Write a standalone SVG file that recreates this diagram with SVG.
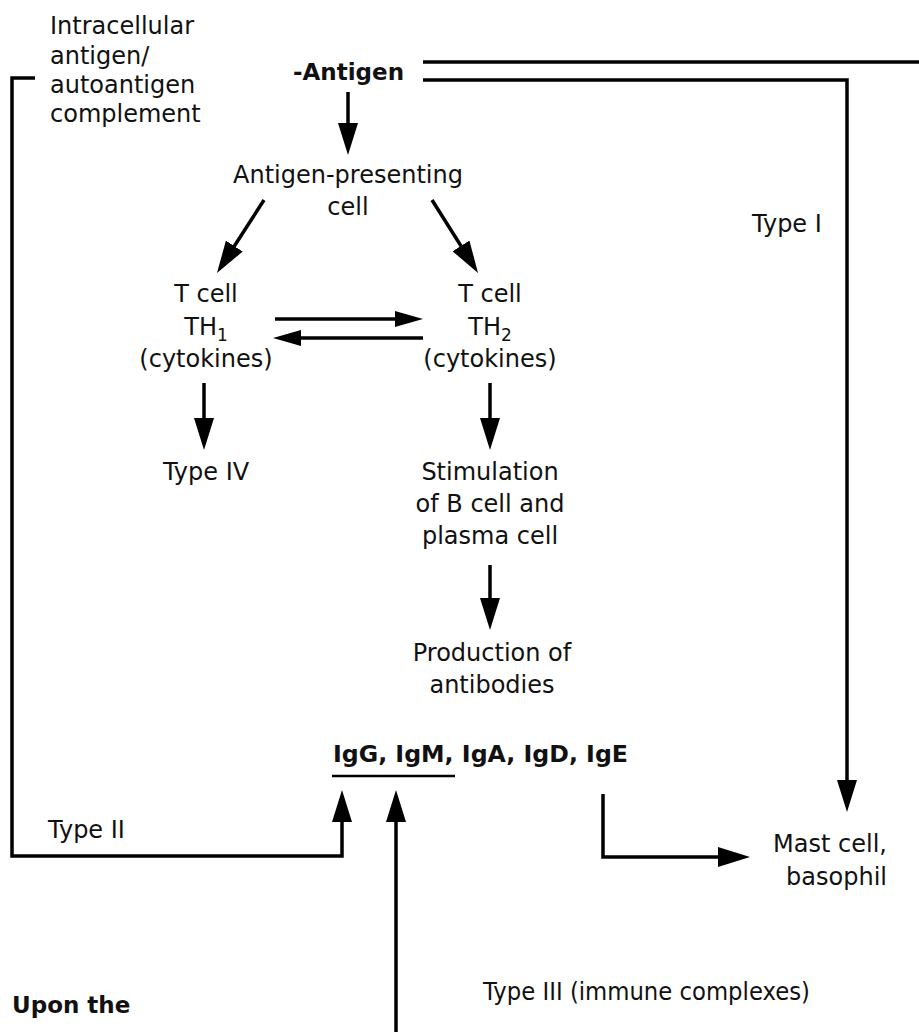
<svg xmlns="http://www.w3.org/2000/svg" width="919" height="1032" viewBox="0 0 919 1032">
<style>
  .t { font-family: "DejaVu Sans", "Liberation Sans", sans-serif; font-size: 24px; fill: #111; }
  .m { text-anchor: middle; }
  .e { text-anchor: end; }
  .b { font-family: "DejaVu Sans", "Liberation Sans", sans-serif; font-weight: bold; font-size: 23px; fill: #111; }
  .c { fill: none; stroke: #000; stroke-width: 3.5; stroke-linejoin: miter; }
</style>
<defs>
  <marker id="ah" markerUnits="userSpaceOnUse" markerWidth="32" markerHeight="20" refX="22" refY="10" orient="auto">
    <path d="M0,0 L32,10 L0,20 Z" fill="#000"/>
  </marker>
  <marker id="ahs" markerUnits="userSpaceOnUse" markerWidth="28" markerHeight="16" refX="18" refY="8" orient="auto">
    <path d="M0,0 L28,8 L0,16 Z" fill="#000"/>
  </marker>
</defs>
<rect width="919" height="1032" fill="#fff"/>

<g id="connectors">
  <!-- bracket / Type II -->
  <path class="c" d="M35,78 H12 V856 H342 V800" marker-end="url(#ah)"/>
  <!-- top double line / Type I -->
  <path class="c" d="M423,62 H919"/>
  <path class="c" d="M423,80 H847 V802" marker-end="url(#ah)"/>
  <!-- Antigen -> APC -->
  <path class="c" d="M348,92 V145" marker-end="url(#ah)"/>
  <!-- APC -> T cells -->
  <path class="c" d="M264,200 L222.4,264.6" marker-end="url(#ah)"/>
  <path class="c" d="M432,200 L472.7,264.5" marker-end="url(#ah)"/>
  <!-- TH1 <-> TH2 -->
  <path class="c" d="M275,319 H413" marker-end="url(#ahs)"/>
  <path class="c" d="M423,338 H283" marker-end="url(#ahs)"/>
  <!-- T cells down -->
  <path class="c" d="M204,383 V440" marker-end="url(#ah)"/>
  <path class="c" d="M490,383 V440" marker-end="url(#ah)"/>
  <path class="c" d="M490,565 V620" marker-end="url(#ah)"/>
  <!-- underline -->
  <path d="M332,776 H455" stroke="#000" stroke-width="2.5" fill="none"/>
  <!-- Type III -->
  <path class="c" d="M396,1032 V800" marker-end="url(#ah)"/>
  <!-- IgE -> Mast cell -->
  <path class="c" d="M603,794 V857 H740" marker-end="url(#ah)"/>
</g>

<g id="intracellular">
  <text class="t" x="50" y="34" font-size="23.5">Intracellular</text>
  <text class="t" x="50" y="64" font-size="23.5">antigen/</text>
  <text class="t" x="50" y="93" font-size="23.5">autoantigen</text>
  <text class="t" x="50" y="122" font-size="23.5">complement</text>
</g>
<g id="antigen">
  <text class="b" x="293" y="80">-Antigen</text>
</g>
<g id="apc">
  <text class="t m" x="348" y="183" font-size="24.5">Antigen-presenting</text>
  <text class="t m" x="348" y="215" font-size="24.5">cell</text>
</g>
<g id="th1">
  <text class="t m" x="206" y="302">T cell</text>
  <text class="t m" x="206" y="335">TH<tspan dy="6" font-size="17">1</tspan></text>
  <text class="t m" x="206" y="367">(cytokines)</text>
</g>
<g id="th2">
  <text class="t m" x="490" y="302">T cell</text>
  <text class="t m" x="490" y="335">TH<tspan dy="6" font-size="17">2</tspan></text>
  <text class="t m" x="490" y="367">(cytokines)</text>
</g>
<g id="type4">
  <text class="t m" x="206" y="480">Type IV</text>
</g>
<g id="stimulation">
  <text class="t m" x="490" y="480">Stimulation</text>
  <text class="t m" x="490" y="512">of B cell and</text>
  <text class="t m" x="490" y="544">plasma cell</text>
</g>
<g id="production">
  <text class="t m" x="492" y="661">Production of</text>
  <text class="t m" x="492" y="693">antibodies</text>
</g>
<g id="immunoglobulins">
  <text class="b" x="333" y="762" font-size="23.5" textLength="295" lengthAdjust="spacingAndGlyphs">IgG, IgM, IgA, IgD, IgE</text>
</g>
<g id="type1">
  <text class="t" x="752" y="232">Type I</text>
</g>
<g id="type2">
  <text class="t" x="48" y="838">Type II</text>
</g>
<g id="mast">
  <text class="t e" x="887" y="852">Mast cell,</text>
  <text class="t e" x="887" y="885">basophil</text>
</g>
<g id="type3">
  <text class="t" x="483" y="1000" textLength="327" lengthAdjust="spacingAndGlyphs">Type III (immune complexes)</text>
</g>
<g id="upon">
  <text class="b" x="12" y="1013">Upon the</text>
</g>
</svg>
